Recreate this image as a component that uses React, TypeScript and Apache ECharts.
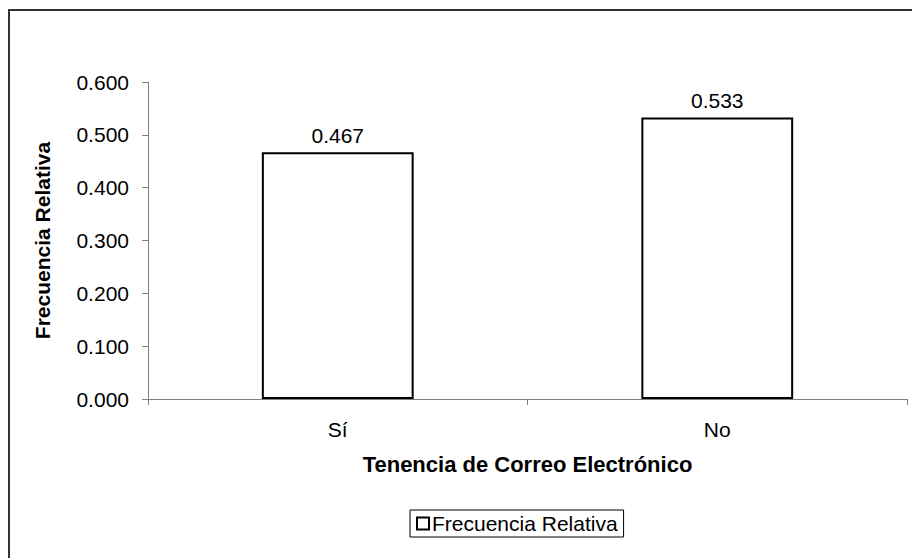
import React, { useEffect, useRef } from "react";
import * as echarts from "echarts";

const categories = ["Sí", "No"];
const values = [0.467, 0.533];
const seriesName = "Frecuencia Relativa";
const xTitle = "Tenencia de Correo Electrónico";
const yTitle = "Frecuencia Relativa";

const FONT = "'Liberation Sans', Arial, sans-serif";
const FS = 21;

export default function App() {
  const ref = useRef<HTMLDivElement>(null);
  useEffect(() => {
    if (!ref.current) return;
    const chart = echarts.init(ref.current, undefined, { renderer: "svg" });
    chart.setOption({
      animation: false,
      backgroundColor: "#fff",
      textStyle: { fontFamily: FONT },
      grid: { left: 148, right: 5, top: 82, bottom: 159, containLabel: false },
      graphic: [
        {
          type: "rect",
          shape: { x: 9, y: 10, width: 1000, height: 1000 },
          style: { fill: "none", stroke: "#333", lineWidth: 2 },
          silent: true,
        },
      ],
      legend: {
        data: [{ name: seriesName, icon: "rect" }],
        left: 410,
        top: 510,
        itemWidth: 12,
        itemHeight: 12,
        itemGap: 5,
        padding: [3, 6, 3, 6],
        borderColor: "#000",
        borderWidth: 1,
        borderRadius: 0,
        itemStyle: { color: "#fff", borderColor: "#000", borderWidth: 2 },
        textStyle: { fontSize: FS, color: "#000", fontFamily: FONT, padding: [0, 0, 0, -2] },
      },
      xAxis: {
        type: "category",
        data: categories,
        name: xTitle,
        nameLocation: "middle",
        nameGap: 54,
        nameTextStyle: { fontSize: 22, fontWeight: "bold", color: "#000", fontFamily: FONT },
        axisLine: { lineStyle: { color: "#808080", width: 1 } },
        axisTick: { show: true, length: 6, lineStyle: { color: "#808080" } },
        axisLabel: { fontSize: FS, color: "#000", margin: 20, fontFamily: FONT },
      },
      yAxis: {
        type: "value",
        min: 0,
        max: 0.6,
        interval: 0.1,
        name: yTitle,
        nameLocation: "middle",
        nameGap: 95,
        nameTextStyle: { fontSize: FS, fontWeight: "bold", color: "#000", fontFamily: FONT },
        axisLine: { show: true, lineStyle: { color: "#808080", width: 1 } },
        axisTick: { show: true, length: 6, lineStyle: { color: "#808080" } },
        splitLine: { show: false },
        axisLabel: {
          fontSize: FS,
          color: "#000",
          margin: 19,
          fontFamily: FONT,
          formatter: (v: number) => v.toFixed(3),
        },
      },
      series: [
        {
          name: seriesName,
          type: "bar",
          data: values,
          barWidth: "40%",
          itemStyle: { color: "#fff", borderColor: "#000", borderWidth: 2 },
          label: {
            show: true,
            position: "top",
            distance: 6,
            fontSize: FS,
            color: "#000",
            fontFamily: FONT,
            formatter: (p: any) => Number(p.value).toFixed(3),
          },
        },
      ],
    });
    return () => chart.dispose();
  }, []);
  return (
    <div
      ref={ref}
      style={{ position: "absolute", left: 0, top: 0, width: 912, height: 558 }}
    />
  );
}
